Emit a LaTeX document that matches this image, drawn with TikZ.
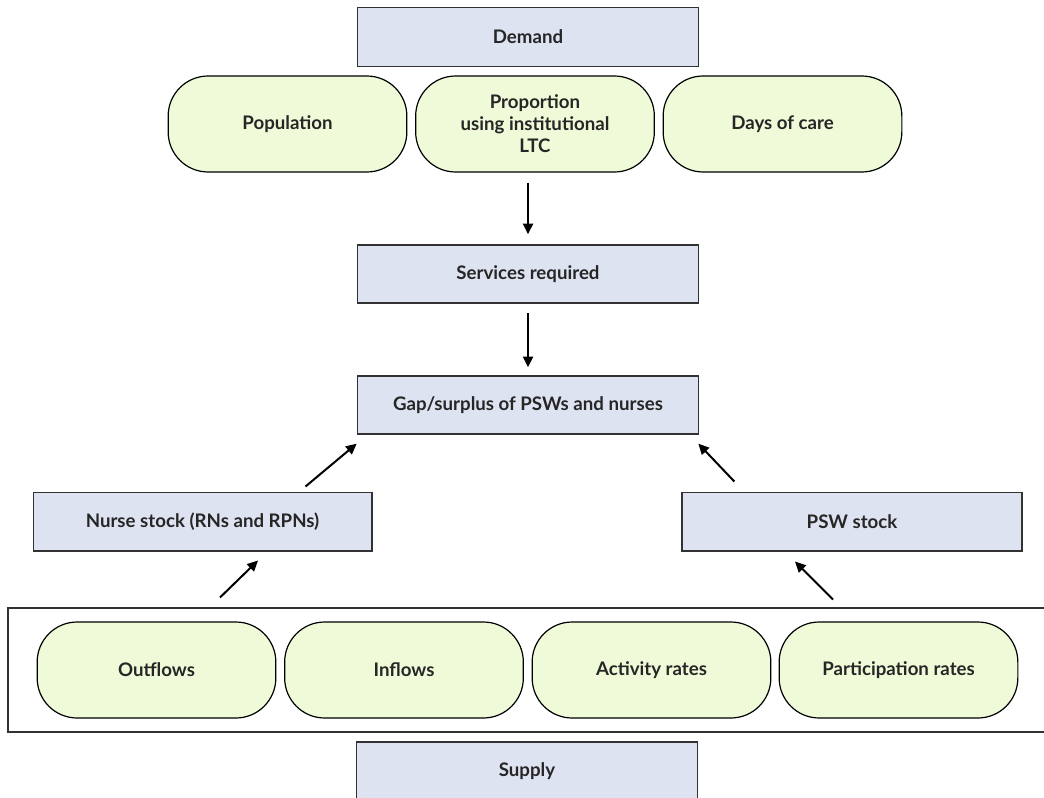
\documentclass[tikz,border=0pt]{standalone}
\usepackage{fontspec}
\setmainfont{Lato}
\usetikzlibrary{arrows.meta,calc}
\definecolor{boxblue}{RGB}{222,227,241}
\definecolor{boxgreen}{RGB}{239,251,216}
\definecolor{txt}{RGB}{38,38,38}
\definecolor{edge}{RGB}{50,50,50}
\begin{document}
\begin{tikzpicture}[x=0.75pt,y=-0.75pt,
  rectbox/.style={draw=edge,line width=1pt,fill=boxblue,minimum width=256pt,minimum height=44pt,inner sep=0pt,text=txt,font=\fontsize{14}{16}\selectfont\bfseries},
  roundbox/.style={draw=black,line width=0.9pt,fill=boxgreen,rounded corners=30pt,minimum width=179pt,minimum height=72pt,inner sep=0pt,align=center,text=txt,font=\fontsize{14}{16.5}\selectfont\bfseries},
  arr/.style={line width=1.5pt,-{Triangle[length=8pt,width=7.5pt]}}]
\clip (0,0) rectangle (1044,798);
\useasboundingbox (0,0) rectangle (1044,798);
% outer frame of supply factors
\draw[edge,line width=1pt] (8,608) rectangle (1070,732);
\node[rectbox] (demand) at (528,37) {Demand};
\node[roundbox] (pop) at (287.5,124) {Population};
\node[roundbox] (prop) at (535,124) {Proportion\\using institutional\\LTC};
\node[roundbox] (days) at (782.5,124) {Days of care};
\node[rectbox,minimum height=43.5pt] (serv) at (528,274) {Services required};
\node[rectbox,minimum height=43.5pt] (gap) at (528,405) {Gap/surplus of PSWs and nurses};
\node[rectbox,minimum width=254pt] (nurse) at (202.5,521.5) {Nurse stock (RNs and RPNs)};
\node[rectbox,minimum width=255pt] (psw) at (852,521.5) {PSW stock};
\node[roundbox] (out) at (156.5,670) {Outflows};
\node[roundbox] (in) at (404,670) {Inflows};
\node[roundbox] (act) at (651.5,670) {Activity rates};
\node[roundbox] (part) at (898.5,670) {Participation rates};
\node[rectbox,minimum height=43.5pt] (supply) at (527,771) {Supply};
% connectors
\draw[arr,shorten <=7.5pt,shorten >=7.5pt] (serv.north |- prop.south) -- (serv.north);
\draw[arr,shorten <=7pt,shorten >=6pt] (serv.south) -- (gap.north);
\draw[arr] ($(nurse.north east)+(-67,-5)$) -- ($(gap.south west)+(0,9)$);
\draw[arr] ($(psw.north west)+(53,-10)$) -- ($(gap.south east)+(-1,9)$);
\draw[arr] ($(nurse.south)+(17.5,46)$) -- ($(nurse.south)+(55.5,9)$);
\draw[arr] ($(psw.south)+(-19,48)$) -- ($(psw.south)+(-57,10)$);
\end{tikzpicture}
\end{document}
